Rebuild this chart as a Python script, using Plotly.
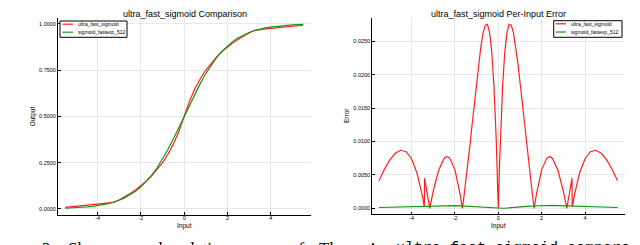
import plotly.graph_objects as go

# ---------------- data ----------------
x_cmp = [-5.5, -5.25, -5.0, -4.75, -4.5, -4.25, -4.0, -3.75, -3.5, -3.4, -3.25, -3.0,
         -2.75, -2.5, -2.25, -2.0, -1.75, -1.5, -1.25, -1.0, -0.75, -0.5, -0.25, 0.0,
         0.25, 0.5, 0.75, 1.0, 1.25, 1.5, 1.75, 2.0, 2.25, 2.5, 2.75, 3.0,
         3.25, 3.4, 3.5, 3.75, 4.0, 4.25, 4.5, 4.75, 5.0, 5.25, 5.5]
ufs_out = [0.00821, 0.01108, 0.01394, 0.01681, 0.01968, 0.02255, 0.02541, 0.02828, 0.03115, 0.03230, 0.03571, 0.05000,
           0.06579, 0.08333, 0.10294, 0.12500, 0.15000, 0.17857, 0.21154, 0.25000, 0.29545, 0.35000, 0.41667, 0.50000,
           0.58333, 0.65000, 0.70455, 0.75000, 0.78846, 0.82143, 0.85000, 0.87500, 0.89706, 0.91667, 0.93421, 0.95000,
           0.96429, 0.96770, 0.96885, 0.97172, 0.97459, 0.97745, 0.98032, 0.98319, 0.98606, 0.98892, 0.99179]
fexp_out = [0.00407, 0.00522, 0.00669, 0.00858, 0.01099, 0.01406, 0.01799, 0.02298, 0.02931, 0.03230, 0.03733, 0.04743,
            0.06009, 0.07586, 0.09535, 0.11920, 0.14805, 0.18243, 0.22270, 0.26894, 0.32082, 0.37754, 0.43782, 0.50000,
            0.56218, 0.62246, 0.67918, 0.73106, 0.77730, 0.81757, 0.85195, 0.88080, 0.90465, 0.92414, 0.93991, 0.95257,
            0.96267, 0.96770, 0.97069, 0.97702, 0.98201, 0.98594, 0.98901, 0.99142, 0.99331, 0.99478, 0.99593]

x_err = [-5.5, -5.25, -5.0, -4.75, -4.5, -4.25, -4.0, -3.75, -3.5, -3.41, -3.4, -3.25, -3.16, -3.0,
         -2.75, -2.5, -2.4, -2.25, -2.0, -1.75, -1.655, -1.6, -1.5, -1.4, -1.3, -1.2, -1.1, -1.0,
         -0.9, -0.8, -0.7, -0.6, -0.5, -0.4, -0.3, -0.2, -0.1, -0.05, 0.0,
         0.05, 0.1, 0.2, 0.3, 0.4, 0.5, 0.6, 0.7, 0.8, 0.9,
         1.0, 1.1, 1.2, 1.3, 1.4, 1.5, 1.6, 1.655, 1.75, 2.0, 2.25, 2.4, 2.5, 2.75,
         3.0, 3.16, 3.25, 3.4, 3.41, 3.5, 3.75, 4.0, 4.25, 4.5, 4.75, 5.0, 5.25, 5.5]
ufs_err = [0.00414, 0.00586, 0.00725, 0.00823, 0.00869, 0.00848, 0.00743, 0.00530, 0.00184, 0.00020, 0.00452, 0.00162, 0.0, 0.00257,
           0.00570, 0.00747, 0.00774, 0.00759, 0.00580, 0.00195, 0.0, 0.00132, 0.00386, 0.00664, 0.00962, 0.01273, 0.01587, 0.01894,
           0.02181, 0.02431, 0.02626, 0.02742, 0.02754, 0.02631, 0.02338, 0.01835, 0.01074, 0.00580, 0.0,
           0.00580, 0.01074, 0.01835, 0.02338, 0.02631, 0.02754, 0.02742, 0.02626, 0.02431, 0.02181,
           0.01894, 0.01587, 0.01273, 0.00962, 0.00664, 0.00386, 0.00132, 0.0, 0.00195, 0.00580, 0.00759, 0.00774, 0.00747, 0.00570,
           0.00257, 0.0, 0.00162, 0.00452, 0.00020, 0.00184, 0.00530, 0.00743, 0.00848, 0.00869, 0.00823, 0.00725, 0.00586, 0.00414]
fexp_err = [0.00012, 0.00014, 0.000162, 0.000188, 0.000215, 0.000245, 0.000276, 0.000308, 0.000341, 0.000352, 0.000353, 0.000371, 0.000384, 0.000397,
            0.000417, 0.000428, 0.000429, 0.000426, 0.00041, 0.000377, 0.00036, 0.000349, 0.000327, 0.000304, 0.000278, 0.00025, 0.000221, 0.000192,
            0.000163, 0.000134, 0.000106, 0.0000804, 0.0000574, 0.0000375, 0.0000215, 0.0000097, 0.0000024, 0.0000006, 0.0,
            0.0000006, 0.0000024, 0.0000097, 0.0000215, 0.0000375, 0.0000574, 0.0000804, 0.000106, 0.000134, 0.000163,
            0.000192, 0.000221, 0.00025, 0.000278, 0.000304, 0.000327, 0.000349, 0.00036, 0.000377, 0.00041, 0.000426, 0.000429, 0.000428, 0.000417,
            0.000397, 0.000384, 0.000371, 0.000353, 0.000352, 0.000341, 0.000308, 0.000276, 0.000245, 0.000215, 0.000188, 0.000162, 0.00014, 0.00012]

series_names = ["ultra_fast_sigmoid", "sigmoid_fastexp_512"]
x_tickvals = [-4, -2, 0, 2, 4]
x_ticktext = ["-4", "-2", "0", "2", "4"]
y1_tickvals = [0.0, 0.25, 0.5, 0.75, 1.0]
y2_tickvals = [0.0, 0.005, 0.010, 0.015, 0.020, 0.025]
titles = ["ultra_fast_sigmoid Comparison", "ultra_fast_sigmoid Per-Input Error"]
x_titles = ["Input", "Input"]
y_titles = ["Output", "Error"]

caption_words = ["Figure", "3:", "Shape", "and", "relative", "error", "of", "Theano\u2019s",
                 "ultra_fast_sigmoid compared"]
caption_x_px = [-23, 32, 58, 128, 167, 232, 280, 309, 386]
caption_mono = [False] * 8 + [True]

# ---------------- figure ----------------
W, H = 640, 245
RED = "rgb(255,30,30)"
GREEN = "rgb(20,150,20)"
COLORS = [RED, GREEN]
SANS = "Liberation Sans, Arial, sans-serif"

fig = go.Figure()
fig.add_trace(go.Scatter(x=x_cmp, y=ufs_out, mode="lines", name=series_names[0],
                         line=dict(color=RED, width=1.2), xaxis="x", yaxis="y"))
fig.add_trace(go.Scatter(x=x_cmp, y=fexp_out, mode="lines", name=series_names[1],
                         line=dict(color=GREEN, width=1.2), xaxis="x", yaxis="y"))
fig.add_trace(go.Scatter(x=x_err, y=ufs_err, mode="lines", name=series_names[0],
                         line=dict(color=RED, width=1.2), xaxis="x2", yaxis="y2"))
fig.add_trace(go.Scatter(x=x_err, y=fexp_err, mode="lines", name=series_names[1],
                         line=dict(color=GREEN, width=1.2), xaxis="x2", yaxis="y2"))

tickfont = dict(family=SANS, size=5.5, color="black")
axfont = dict(family=SANS, size=6.5, color="black")
common = dict(showline=True, linecolor="black", linewidth=1, mirror=False,
              showgrid=True, gridcolor="rgb(232,232,232)", gridwidth=0.6,
              zeroline=False, ticks="inside", ticklen=2.5, tickcolor="black",
              tickfont=tickfont)

def dom(p0, p1, total):
    return [p0 / total, p1 / total]

fig.update_layout(
    width=W, height=H, autosize=False,
    margin=dict(l=0, r=0, t=0, b=0),
    paper_bgcolor="white", plot_bgcolor="white",
    showlegend=False,
    xaxis=dict(domain=dom(50, 303, W), range=[-5.83, 5.86], tickvals=x_tickvals, ticktext=x_ticktext,
               anchor="y", ticklabelstandoff=-2, **common),
    yaxis=dict(domain=[1 - 206.7 / H, 1 - 10 / H], range=[-0.0308, 1.0308], tickvals=y1_tickvals,
               tickformat=".4f", anchor="x", **common),
    xaxis2=dict(domain=dom(364.3, 616.7, W), range=[-5.81, 5.83], tickvals=x_tickvals, ticktext=x_ticktext,
                anchor="y2", ticklabelstandoff=-2, **common),
    yaxis2=dict(domain=[1 - 206 / H, 1 - 10 / H], range=[-0.00085, 0.02849], tickvals=y2_tickvals,
                tickformat=".4f", anchor="x2", **common),
)

annotations = []
shapes = []

# subplot titles and axis titles
centers = [(50 + 303) / 2 / W, (364.3 + 616.7) / 2 / W]
for t, cx in zip(titles, centers):
    annotations.append(dict(text=t, x=cx, y=1 - 5.5 / H, xref="paper", yref="paper",
                            xanchor="center", yanchor="middle", showarrow=False,
                            font=dict(family=SANS, size=9, color="black")))
for t, cx in zip(x_titles, centers):
    annotations.append(dict(text=t, x=cx, y=1 - 218.3 / H, xref="paper", yref="paper",
                            xanchor="center", yanchor="middle", showarrow=False,
                            font=axfont))
for t, px, ymid in zip(y_titles, [25, 339], [108.3, 108]):
    annotations.append(dict(text=t, x=px / W, y=1 - ymid / H, xref="paper", yref="paper",
                            xanchor="center", yanchor="middle", showarrow=False, textangle=-90,
                            font=axfont))

# compact legends (box, line sample, label), pixel layout
legend_boxes = [(52, 13, 119, 29.3), (545.7, 12.7, 614, 29.3)]
legend_rows_y = [(16.2, 24.2), (15.8, 24.0)]
legend_line_x = [(54.5, 65), (547.7, 558)]
for (x0, y0, x1, y1), rows, (lx0, lx1) in zip(legend_boxes, legend_rows_y, legend_line_x):
    shapes.append(dict(type="rect", xref="paper", yref="paper",
                       x0=x0 / W, x1=x1 / W, y0=1 - y0 / H, y1=1 - y1 / H,
                       line=dict(color="black", width=1), fillcolor="white", layer="above"))
    for name, col, ry in zip(series_names, COLORS, rows):
        shapes.append(dict(type="line", xref="paper", yref="paper",
                           x0=lx0 / W, x1=lx1 / W, y0=1 - ry / H, y1=1 - ry / H,
                           line=dict(color=col, width=1.2), layer="above"))
        annotations.append(dict(text=name, x=(lx1 + 2.5) / W, y=1 - ry / H, xref="paper", yref="paper",
                                xanchor="left", yanchor="middle", showarrow=False,
                                font=dict(family=SANS, size=5, color="black")))

# caption text of the source figure (cut by the frame, as in the picture)
for w, px, mono in zip(caption_words, caption_x_px, caption_mono):
    annotations.append(dict(text=w, x=px / W, y=1 - 240 / H, xref="paper", yref="paper",
                            xanchor="left", yanchor="middle", showarrow=False,
                            font=dict(family=("Liberation Mono, monospace" if mono else "Liberation Serif, Times New Roman, serif"),
                                      size=(15 if mono else 17), color="black")))

fig.update_layout(annotations=annotations, shapes=shapes)

fig.write_html("out.html")
